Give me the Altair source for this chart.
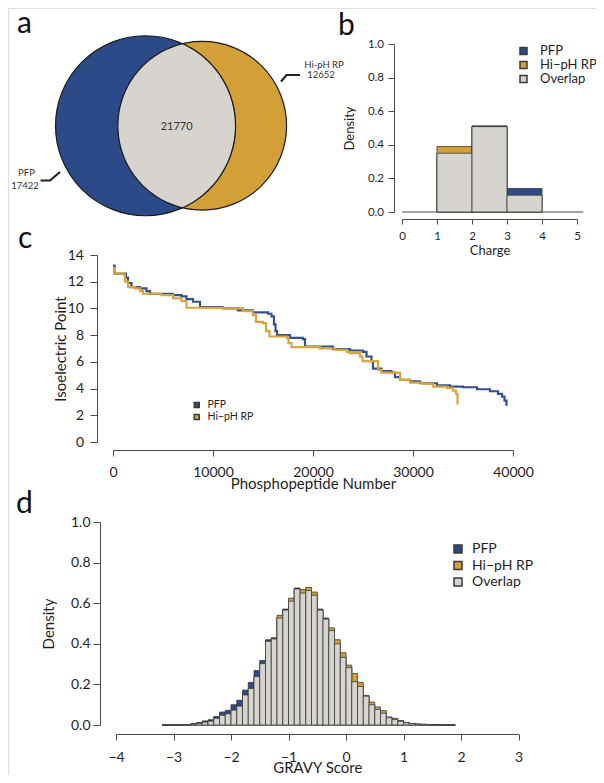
import math
import altair as alt
import pandas as pd

# ---------------- data ----------------
venn_labels = ["PFP", "Hi-pH RP"]
venn_unique = [17422, 12652]
venn_shared = 21770

series_names = ["PFP", "Hi\u2212pH RP", "Overlap"]

charge_lo = [1, 2, 3]
charge_hi = [2, 3, 4]
charge_pfp = [0.35, 0.513, 0.14]
charge_hiph = [0.39, 0.508, 0.10]

pi_pfp_rank = [0, 150, 1000, 1300, 1500, 1850, 2700, 3350, 3700, 6000, 6850, 7350, 8000, 8700,
               11000, 12500, 14000, 15500, 15850, 16100, 16250, 16400, 17700, 19000, 19200, 22000,
               23700, 25000, 25350, 25850, 26000, 26850, 27850, 28200, 28700, 29700, 30700, 32400,
               33700, 35000, 36400, 37700, 38500, 38900, 39150, 39350]
pi_pfp_value = [13.2, 12.6, 12.6, 12.3, 11.9, 11.6, 11.5, 11.3, 11.1, 11.0, 10.9, 10.7, 10.5, 10.1,
                10.0, 9.85, 9.7, 9.6, 9.4, 8.8, 8.3, 8.0, 7.8, 7.7, 7.15, 6.95,
                6.85, 6.75, 6.4, 6.05, 5.5, 5.3, 5.2, 4.85, 4.65, 4.55, 4.4, 4.25,
                4.15, 4.1, 3.95, 3.8, 3.6, 3.4, 3.1, 2.7]
pi_hiph_rank = [0, 150, 1100, 1200, 1500, 2200, 2700, 3000, 4850, 6000, 6850, 7350, 11000, 13000,
                14000, 14300, 15000, 15300, 15650, 17400, 17550, 17850, 20700, 22200, 23400, 23700,
                24700, 24950, 26500, 26850, 28700, 29700, 31000, 32000, 33400, 34000, 34300, 34450]
pi_hiph_value = [13.0, 12.6, 12.5, 12.0, 11.6, 11.5, 11.3, 11.1, 11.0, 10.75, 10.55, 10.05, 10.0, 9.8,
                 9.5, 9.0, 8.9, 8.3, 7.9, 7.8, 7.4, 7.1, 7.0, 6.9, 6.75, 6.65,
                 6.4, 6.05, 5.4, 5.2, 4.65, 4.45, 4.35, 4.15, 4.05, 3.85, 3.6, 2.8]

gravy_lo = [-3.2, -3.1, -3.0, -2.9, -2.8, -2.7, -2.6, -2.5, -2.4, -2.3, -2.2, -2.1, -2.0, -1.9,
            -1.8, -1.7, -1.6, -1.5, -1.4, -1.3, -1.2, -1.1, -1.0, -0.9, -0.8, -0.7, -0.6, -0.5,
            -0.4, -0.3, -0.2, -0.1, 0.0, 0.1, 0.2, 0.3, 0.4, 0.5, 0.6, 0.7, 0.8, 0.9, 1.0, 1.1,
            1.2, 1.3, 1.4, 1.5, 1.6, 1.7, 1.8]
gravy_width = 0.1
gravy_pfp = [0.0004, 0.0005, 0.0008, 0.0012, 0.002, 0.007, 0.012, 0.020, 0.026, 0.042, 0.064, 0.072,
             0.100, 0.122, 0.172, 0.210, 0.268, 0.318, 0.420, 0.430, 0.527, 0.571, 0.610, 0.675,
             0.650, 0.663, 0.639, 0.571, 0.527, 0.465, 0.400, 0.333, 0.283, 0.213, 0.190, 0.142,
             0.100, 0.077, 0.058, 0.036, 0.027, 0.018, 0.011, 0.007, 0.004, 0.003, 0.002, 0.001,
             0.001, 0.0005, 0.0004]
gravy_hiph = [0.0003, 0.0003, 0.0005, 0.001, 0.0015, 0.004, 0.008, 0.014, 0.019, 0.033, 0.048, 0.055,
              0.073, 0.093, 0.148, 0.180, 0.238, 0.302, 0.412, 0.424, 0.540, 0.566, 0.625, 0.670,
              0.667, 0.678, 0.655, 0.566, 0.522, 0.478, 0.420, 0.356, 0.295, 0.254, 0.210, 0.146,
              0.113, 0.089, 0.071, 0.040, 0.033, 0.022, 0.013, 0.008, 0.005, 0.003, 0.002, 0.0015,
              0.001, 0.0008, 0.0005]

panel_letters = ["a", "b", "c", "d"]

# ---------------- style / layout ----------------
FONT = "Lato"
INK = "#1f1f1f"
AXIS_INK = "#4a4a4a"
EDGE = "#3a3a3a"
BLUE = "#2C4A87"
GOLD = "#D3A037"
GREY = "#D7D4CF"
LINE_BLUE = "#34508F"
LINE_GOLD = "#D8A43C"
W, H = 588, 767

LETTER_POS = {"a": (9, 25), "b": (330, 27), "c": (10, 240), "d": (8, 505)}
VENN_CENTER = (137.5, 117.75)
VENN_R = 90.0
VENN_TEXT_POS = [(18.5, 165), (17, 178), (316, 57), (313, 67)]
LEADERS = [((42, 172.5), "M -9.5 0 L 0 0 L 10 -8.5"), ((278.5, 67), "M -5.5 6.5 L 0 0 L 13.5 0")]

PX = alt.Scale(domain=[0, W], range=[0, W], nice=False, zero=False)
PY = alt.Scale(domain=[0, H], range=[0, H], nice=False, zero=False)


def ax(**kw):
    base = dict(grid=False, domainColor=AXIS_INK, tickColor=AXIS_INK, domainWidth=1, tickWidth=1,
                labelFont=FONT, titleFont=FONT, labelColor=INK, titleColor=INK,
                titleFontWeight="normal", labelFlush=False, labelOverlap=False)
    base.update(kw)
    return alt.Axis(**base)


def leg(**kw):
    base = dict(orient="none", direction="vertical", title=None, labelFont=FONT, labelColor=INK,
                padding=0, symbolType="square")
    base.update(kw)
    return alt.Legend(**base)


# ---------------- panel a : Venn ----------------
tot1 = venn_unique[0] + venn_shared
tot2 = venn_unique[1] + venn_shared
r1 = VENN_R
r2 = VENN_R * math.sqrt(tot2 / tot1)
target = venn_shared / tot1 * math.pi * r1 * r1


def lens_area(d):
    c1 = (d * d + r1 * r1 - r2 * r2) / (2 * d * r1)
    c2 = (d * d + r2 * r2 - r1 * r1) / (2 * d * r2)
    k = (-d + r1 + r2) * (d + r1 - r2) * (d - r1 + r2) * (d + r1 + r2)
    return r1 * r1 * math.acos(c1) + r2 * r2 * math.acos(c2) - 0.5 * math.sqrt(k)


lo, hi = abs(r1 - r2) + 1e-6, r1 + r2 - 1e-6
for _ in range(100):
    mid = (lo + hi) / 2
    if lens_area(mid) > target:
        lo = mid
    else:
        hi = mid
dist = (lo + hi) / 2
c1x, cy = VENN_CENTER
c2x = c1x + dist

a_ = (dist * dist + r1 * r1 - r2 * r2) / (2 * dist)
t1 = math.acos(a_ / r1)
t2 = math.acos((dist - a_) / r2)
pts = []
N = 80
for i in range(N + 1):
    t = -t1 + 2 * t1 * i / N
    pts.append((r1 * math.cos(t), r1 * math.sin(t)))
for i in range(N + 1):
    t = math.pi - t2 + 2 * t2 * i / N
    pts.append((dist + r2 * math.cos(t), r2 * math.sin(t)))
lens_path = "M" + " L".join(f"{x:.2f} {y:.2f}" for x, y in pts) + " Z"


def pxy():
    return dict(x=alt.X("x:Q", scale=PX, axis=None), y=alt.Y("y:Q", scale=PY, axis=None))


circ_df = pd.DataFrame({"x": [c2x, c1x], "y": [cy, cy],
                        "sz": [(2 * r2) ** 2, (2 * r1) ** 2], "col": [GOLD, BLUE]})
circles = alt.Chart(circ_df).mark_point(shape="circle", filled=True, opacity=1, stroke="#1a1a1a",
                                        strokeWidth=1.2).encode(
    size=alt.Size("sz:Q", scale=None), fill=alt.Fill("col:N", scale=None), **pxy())

lens = alt.Chart(pd.DataFrame({"x": [c1x], "y": [cy]})).mark_point(
    shape=lens_path, size=4, filled=True, opacity=1, fill=GREY, stroke="#1a1a1a", strokeWidth=1.2
).encode(**pxy())

leader_layers = []
for (lx, ly), shp in LEADERS:
    leader_layers.append(alt.Chart(pd.DataFrame({"x": [lx], "y": [ly]})).mark_point(
        shape=shp, size=4, filled=False, opacity=1, stroke="#222222", strokeWidth=2.2
    ).encode(**pxy()))

lens_mid = ((c2x - r2) + (c1x + r1)) / 2
count_txt = alt.Chart(pd.DataFrame({"x": [lens_mid], "y": [cy + 1.5], "t": [str(venn_shared)]})).mark_text(
    font=FONT, fontSize=11, color="#333333", align="center", baseline="middle"
).encode(text="t:N", **pxy())

set_texts = [venn_labels[0], str(venn_unique[0]), venn_labels[1], str(venn_unique[1])]
set_df = pd.DataFrame({"x": [p[0] for p in VENN_TEXT_POS], "y": [p[1] for p in VENN_TEXT_POS],
                       "t": set_texts})
set_txt = alt.Chart(set_df).mark_text(
    font=FONT, fontSize=9.5, color="#333333", align="center", baseline="middle"
).encode(text="t:N", **pxy())

letters_df = pd.DataFrame({"x": [LETTER_POS[k][0] for k in panel_letters],
                           "y": [LETTER_POS[k][1] for k in panel_letters], "t": panel_letters})
letters = alt.Chart(letters_df).mark_text(
    font=FONT, fontSize=30, color="#111111", align="left", baseline="alphabetic"
).encode(text="t:N", **pxy())

hist_colors = alt.Scale(domain=series_names, range=[BLUE, GOLD, GREY])

# ---------------- panel b : charge ----------------
b_rows = []
for l_, h_, p_, q_ in zip(charge_lo, charge_hi, charge_pfp, charge_hiph):
    b_rows.append({"series": series_names[0], "lo": l_, "hi": h_, "v": p_})
    b_rows.append({"series": series_names[1], "lo": l_, "hi": h_, "v": q_})
for l_, h_, p_, q_ in zip(charge_lo, charge_hi, charge_pfp, charge_hiph):
    b_rows.append({"series": series_names[2], "lo": l_, "hi": h_, "v": min(p_, q_)})
b_df = pd.DataFrame(b_rows)


def bx():
    return alt.Scale(domain=[0, 5], range=[394, 569], nice=False, zero=False)


def by():
    return alt.Scale(domain=[0, 1], range=[204, 36], nice=False, zero=False)


b_bars = alt.Chart(b_df).mark_bar(stroke=EDGE, strokeWidth=0.8).encode(
    x=alt.X("lo:Q", scale=bx(), axis=ax(orient="bottom", offset=211 - H, values=[0, 1, 2, 3, 4, 5],
                                         format="d", tickSize=5, labelPadding=6.5, labelFontSize=11.5,
                                         title="Charge", titleFontSize=13, titleY=35,
                                         titleBaseline="alphabetic")),
    x2="hi:Q",
    y=alt.Y("v:Q", scale=by(), stack=None,
            axis=ax(orient="left", offset=-386, values=[0, 0.2, 0.4, 0.6, 0.8, 1.0], format=".1f",
                    tickSize=6, labelPadding=4.5, labelFontSize=11.5, title="Density",
                    titleFontSize=13, titleX=-41, titleY=120, titleBaseline="alphabetic")),
    y2=alt.Y2Datum(0),
    color=alt.Color("series:N", scale=hist_colors,
                    legend=leg(legendX=509, legendY=36.5, symbolSize=49, labelFontSize=13,
                               labelOffset=10, rowPadding=0)),
)
b_base = alt.Chart(pd.DataFrame({"a": [0], "b": [5.18], "z": [0]})).mark_rule(
    color=AXIS_INK, strokeWidth=1).encode(
    x=alt.X("a:Q", scale=bx(), axis=None), x2="b:Q", y=alt.Y("z:Q", scale=by(), axis=None))

# ---------------- panel c : isoelectric point ----------------
c_df = pd.concat([
    pd.DataFrame({"series": series_names[0], "n": pi_pfp_rank, "pI": pi_pfp_value}),
    pd.DataFrame({"series": series_names[1], "n": pi_hiph_rank, "pI": pi_hiph_value}),
], ignore_index=True)


def cxs():
    return alt.Scale(domain=[0, 40000], range=[105, 505], nice=False, zero=False)


def cys():
    return alt.Scale(domain=[0, 14], range=[434, 247], nice=False, zero=False)


c_lines = alt.Chart(c_df).mark_line(interpolate="step-after", strokeWidth=2.2).encode(
    x=alt.X("n:Q", scale=cxs(), axis=ax(orient="bottom", offset=442 - H,
                                         values=[0, 10000, 20000, 30000, 40000], format="d",
                                         tickSize=6, labelPadding=9, labelFontSize=14,
                                         title="Phosphopeptide Number", titleFontSize=15, titleY=38.5,
                                         titleBaseline="alphabetic")),
    y=alt.Y("pI:Q", scale=cys(), axis=ax(orient="left", offset=-89, values=list(range(0, 15, 2)),
                                          format="d", tickSize=7, labelPadding=6.5, labelFontSize=14,
                                          title="Isoelectric Point", titleFontSize=15, titleX=-32,
                                          titleY=340.5, titleBaseline="alphabetic")),
    color=alt.Color("series:N", scale=alt.Scale(domain=series_names[:2], range=[LINE_BLUE, LINE_GOLD]),
                    legend=None),
)
c_leg = alt.Chart(c_df).transform_filter("false").mark_square(
    size=25, filled=True, opacity=1, stroke=EDGE, strokeWidth=0.6).encode(
    x=alt.X("n:Q", scale=cxs(), axis=None), y=alt.Y("pI:Q", scale=cys(), axis=None),
    fill=alt.Fill("series:N", scale=alt.Scale(domain=series_names[:2], range=[BLUE, GOLD]),
                  legend=leg(legendX=183.5, legendY=391.75, symbolSize=25, labelFontSize=10.5,
                             labelOffset=5.5, rowPadding=0)),
)

# ---------------- panel d : GRAVY ----------------
d_rows = []
for l_, p_, q_ in zip(gravy_lo, gravy_pfp, gravy_hiph):
    d_rows.append({"series": series_names[0], "lo": l_, "hi": l_ + gravy_width, "v": p_})
    d_rows.append({"series": series_names[1], "lo": l_, "hi": l_ + gravy_width, "v": q_})
for l_, p_, q_ in zip(gravy_lo, gravy_pfp, gravy_hiph):
    d_rows.append({"series": series_names[2], "lo": l_, "hi": l_ + gravy_width, "v": min(p_, q_)})
d_df = pd.DataFrame(d_rows)
dx = alt.Scale(domain=[-4, 3], range=[108, 510.5], nice=False, zero=False)
dy = alt.Scale(domain=[0, 1], range=[717, 514], nice=False, zero=False)
panel_d = alt.Chart(d_df).mark_bar(stroke=EDGE, strokeWidth=0.8).encode(
    x=alt.X("lo:Q", scale=dx, axis=ax(orient="bottom", offset=726 - H, values=list(range(-4, 4)),
                                       format="d", tickSize=6, labelPadding=10, labelFontSize=14,
                                       title="GRAVY Score", titleFontSize=15, titleY=38,
                                       titleBaseline="alphabetic")),
    x2="hi:Q",
    y=alt.Y("v:Q", scale=dy, stack=None,
            axis=ax(orient="left", offset=-92, values=[0, 0.2, 0.4, 0.6, 0.8, 1.0], format=".1f",
                    tickSize=7, labelPadding=3, labelFontSize=14, title="Density",
                    titleFontSize=15, titleX=-47, titleY=615.5, titleBaseline="alphabetic")),
    y2=alt.Y2Datum(0),
    color=alt.Color("series:N", scale=hist_colors,
                    legend=leg(legendX=443, legendY=534, symbolSize=64, labelFontSize=14,
                               labelOffset=7, rowPadding=2.5)),
)

chart = alt.layer(
    circles, lens, *leader_layers, count_txt, set_txt, b_base, b_bars, c_lines, c_leg, panel_d, letters
).resolve_scale(
    x="independent", y="independent", color="independent", fill="independent",
    size="independent", shape="independent"
).resolve_legend(color="independent", fill="independent").properties(
    width=W, height=H, padding=0, autosize=alt.AutoSizeParams(type="none")
).configure_view(stroke=None).configure(font=FONT)

chart.save("out.html", embed_options={"renderer": "svg", "actions": False})
